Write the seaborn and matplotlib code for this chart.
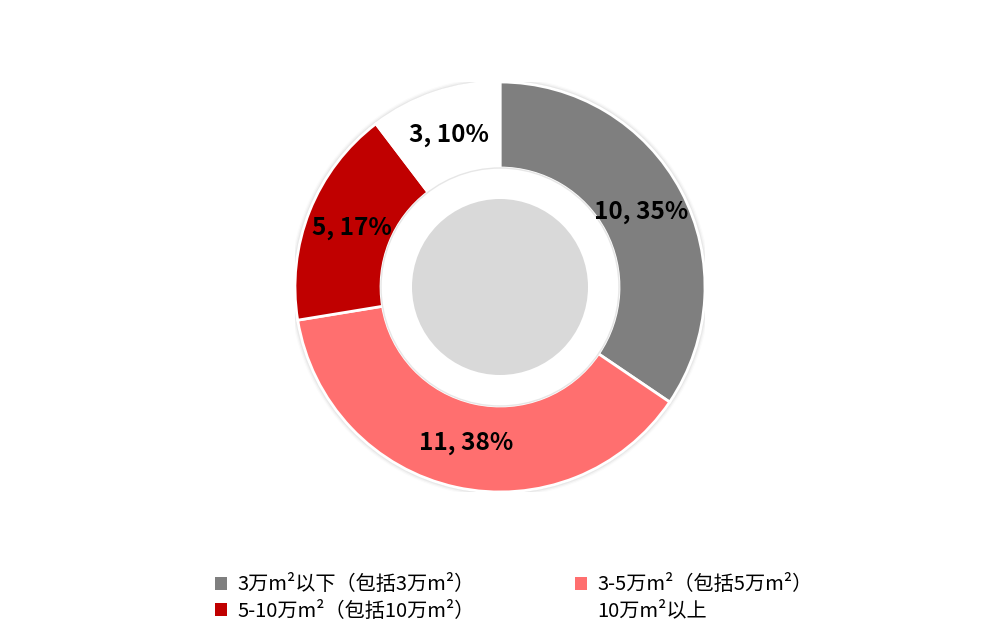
import matplotlib
matplotlib.use("Agg")
import matplotlib.pyplot as plt
import matplotlib.patches as mpatches
import numpy as np
import seaborn as sns

# 数据
categories = ['3万m²以下（包括3万m²）', '3-5万m²（包括5万m²）',
              '5-10万m²（包括10万m²）', '10万m²以上']
counts = [10, 11, 5, 3]
pct_labels = ['35%', '38%', '17%', '10%']
colors = ['#7F7F7F', '#FF6F6F', '#C00000', '#FFFFFF']

sns.set_theme(style="white")
plt.rcParams['font.family'] = ['Noto Sans CJK SC', 'DejaVu Sans']

fig = plt.figure(figsize=(10.01, 6.44), dpi=100)
ax = fig.add_axes([295 / 1001, 152 / 644, 410 / 1001, 410 / 644])

# 外圈阴影
for k, a in enumerate([0.06, 0.045, 0.03, 0.015]):
    ax.add_patch(mpatches.Circle((0, 0), 1.0 + 0.006 * (k + 1), color='black',
                                 alpha=a, zorder=0, lw=0))

wedges, _ = ax.pie(counts, colors=colors, startangle=90, counterclock=False,
                   radius=1.0,
                   wedgeprops=dict(width=1 - 119 / 205, edgecolor='white', linewidth=2))
for w in wedges:
    w.set_zorder(2)

# 中间白色圆 + 灰色圆
ax.add_patch(mpatches.Circle((0, 0), 119 / 205, facecolor='white',
                             edgecolor='#E6E6E6', lw=1, zorder=2.5))
ax.add_patch(mpatches.Circle((0, 0), 88 / 205, color='#D9D9D9', lw=0, zorder=3))

# 标签
total = sum(counts)
start = 90
for c, p in zip(counts, pct_labels):
    span = c / total * 360
    mid = np.deg2rad(start - span / 2)
    start -= span
    ax.text(0.78 * np.cos(mid), 0.78 * np.sin(mid), f'{c}, {p}', ha='center', va='center',
            fontsize=17.5, color='black', fontweight='bold', zorder=4)

ax.set_xlim(-1, 1)
ax.set_ylim(-1, 1)
ax.set_aspect('equal')
ax.axis('off')

order = [0, 2, 1, 3]
handles = [mpatches.Patch(facecolor=colors[i], edgecolor='none') for i in order]
labels = [categories[i] for i in order]
leg = fig.legend(handles, labels, loc='center', bbox_to_anchor=(514 / 1001, 1 - 598 / 644),
                 ncol=2, frameon=False, fontsize=14.5, handlelength=0.6, handleheight=0.6,
                 handletextpad=0.5, columnspacing=5.0, labelspacing=0.25)
for t in leg.get_texts():
    t.set_color('black')

fig.savefig('out.png', dpi=100)
